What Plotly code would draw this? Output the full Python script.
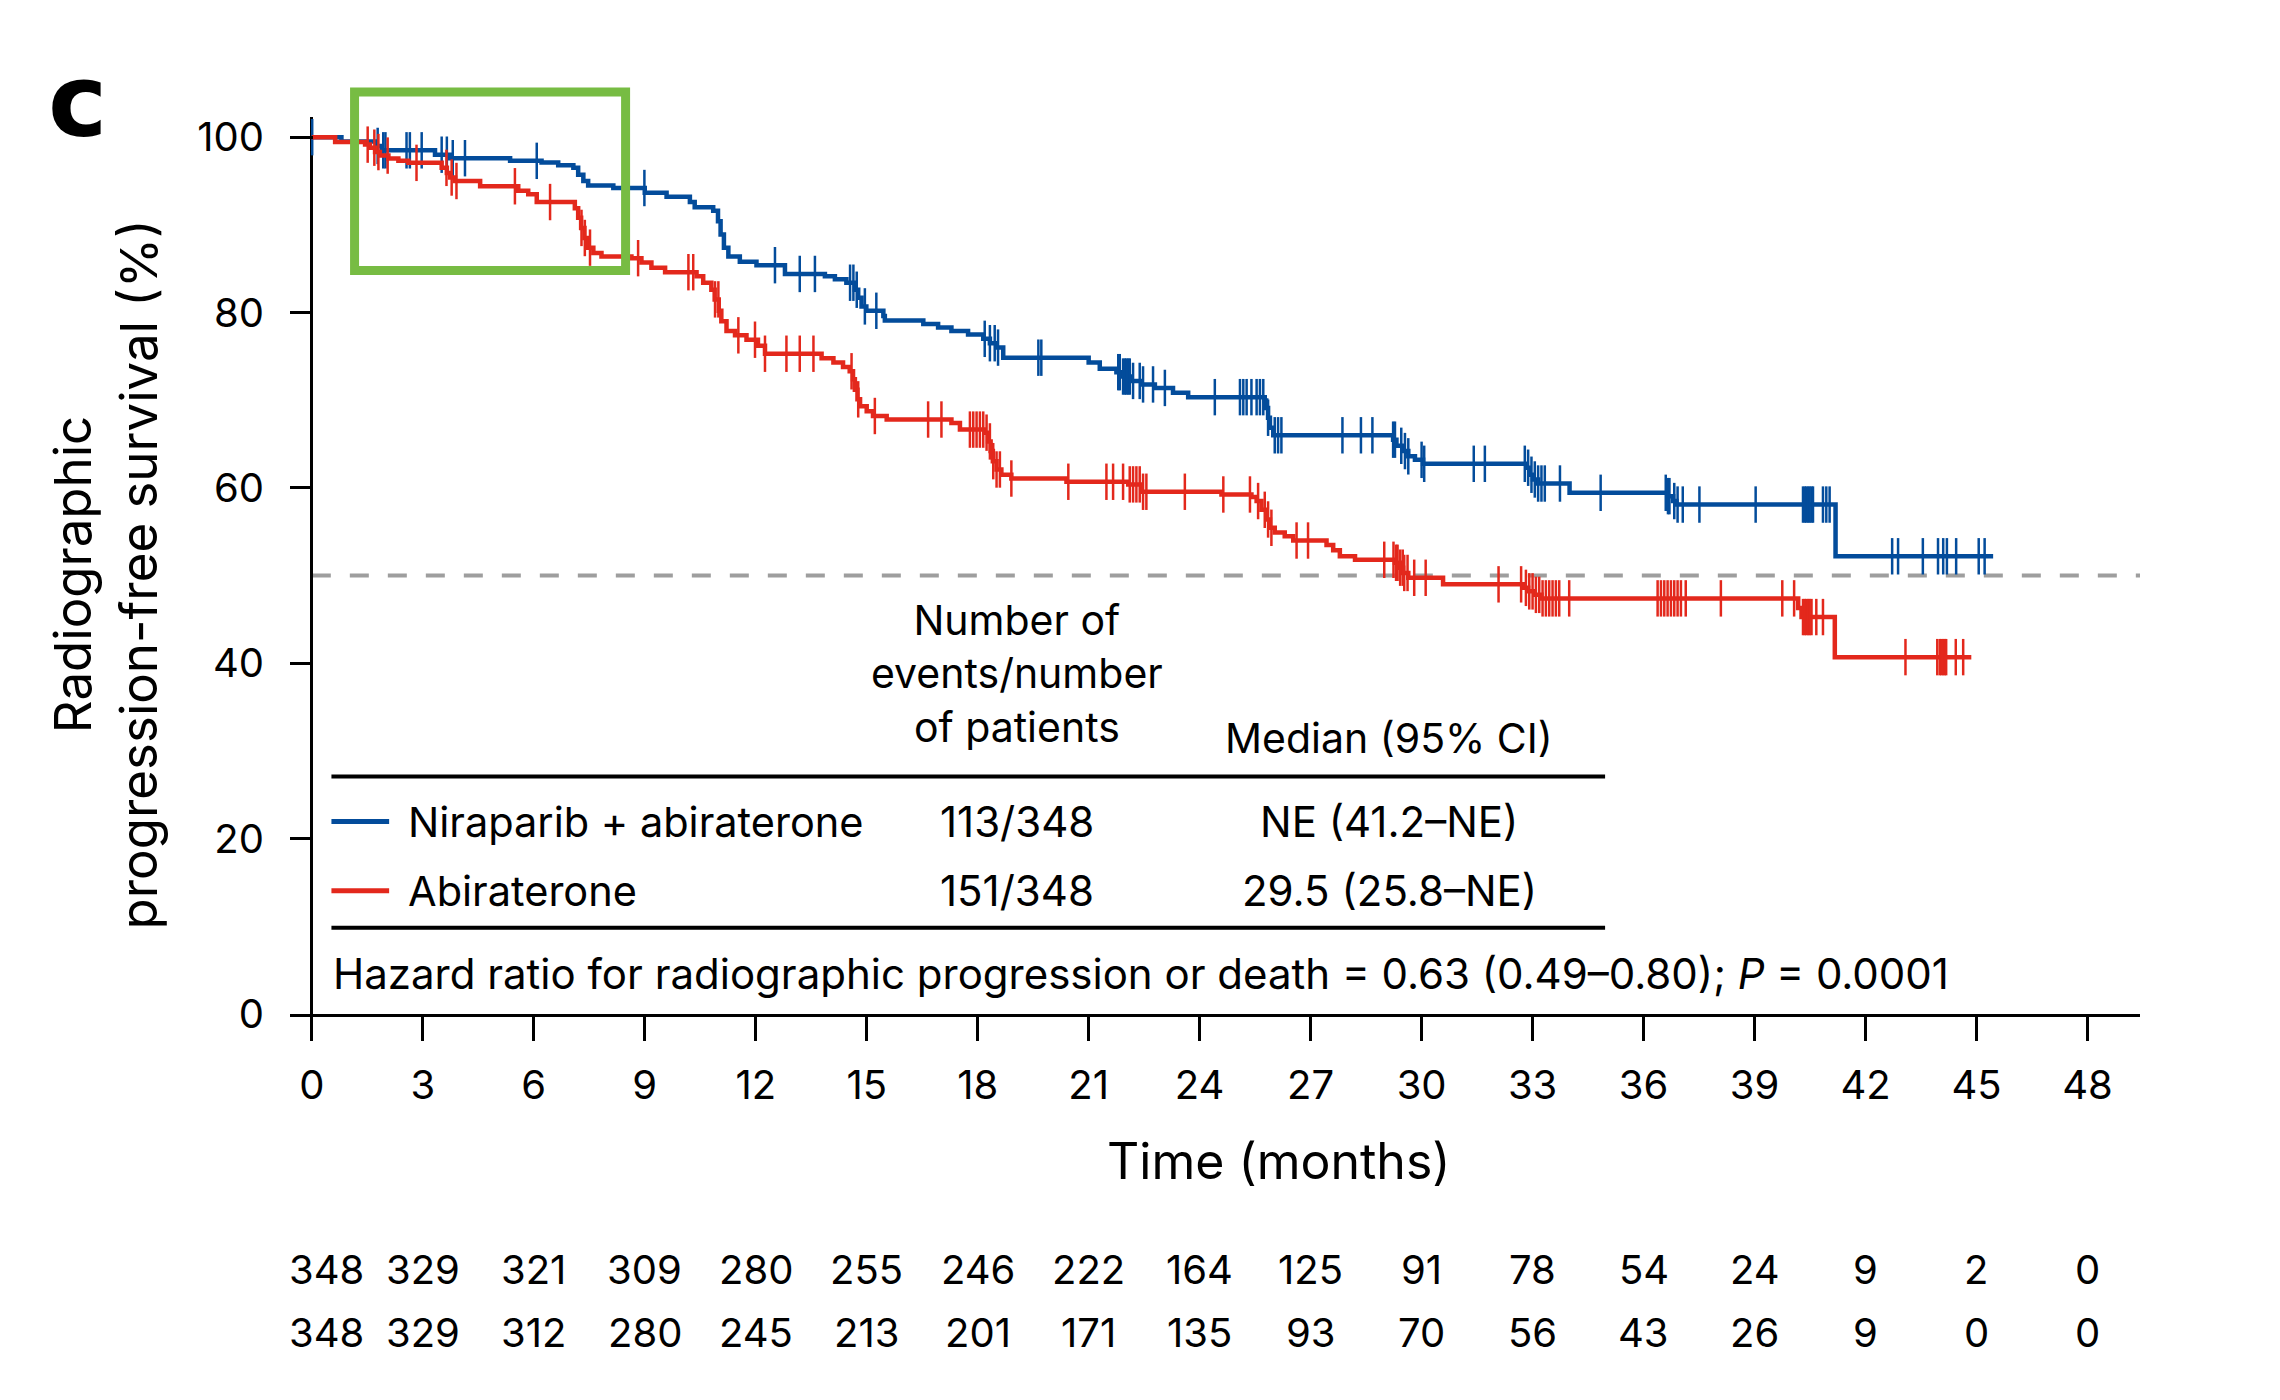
import bisect
import plotly.graph_objects as go

# Kaplan-Meier steps (time in months, survival in %)
nira_t = [0, 0.8, 1.75, 1.89, 3.33, 3.73, 5.36, 6.21, 6.66, 7.07, 7.2, 7.34, 7.47, 8.15, 9.0,
          9.59, 10.22, 10.35, 10.85, 10.98, 11.05, 11.14, 11.26, 11.57, 12.02, 12.79, 13.87,
          14.14, 14.45, 14.68, 14.77, 14.86, 14.99, 15.45, 15.49, 16.53, 16.93, 17.29, 17.74,
          18.15, 18.33, 18.51, 18.69, 21.0, 21.3, 21.75, 21.9, 22.15, 22.43, 22.79, 23.28,
          23.69, 25.76, 25.8, 25.85, 25.9, 25.99, 29.23, 29.32, 29.5, 29.64, 29.82, 30.04,
          32.83, 32.92, 33.01, 33.15, 34.0, 36.65, 36.8, 36.89, 41.19, 45.45]
nira_s = [100, 99.5, 99.0, 98.5, 98.0, 97.6, 97.3, 97.1, 96.8, 96.5, 95.7, 95.0, 94.5, 94.2,
          93.65, 93.2, 92.6, 92.0, 91.6, 90.4, 88.9, 87.4, 86.4, 85.8, 85.4, 84.4, 84.15, 83.8,
          83.4, 82.6, 81.7, 80.7, 80.2, 79.6, 79.1, 78.7, 78.3, 77.9, 77.5, 77.0, 76.5, 76.0,
          74.85, 74.3, 73.6, 73.2, 72.7, 72.2, 71.8, 71.4, 70.85, 70.35, 69.97, 69.1, 68.0,
          66.85, 66.0, 65.5, 64.8, 64.2, 63.6, 63.2, 62.75, 62.3, 61.5, 60.96, 60.5, 59.44,
          59.06, 58.5, 58.1, 52.2, 52.2]
nira_cens = [0.01, 1.78, 1.93, 1.99, 2.56, 2.65, 2.97, 3.51, 3.65, 3.81, 4.14, 6.08, 8.99,
             12.52, 13.19, 13.6, 14.55, 14.64, 14.73, 14.95, 15.26, 18.19, 18.33, 18.46, 18.55,
             19.64, 19.72, 21.8, 21.84, 21.93, 21.98, 22.02, 22.07, 22.11, 22.2, 22.38, 22.47,
             22.74, 23.06, 24.41, 25.09, 25.18, 25.27, 25.4, 25.54, 25.63, 25.72, 25.85, 26.03,
             26.12, 26.21, 27.86, 28.36, 28.67, 29.23, 29.28, 29.45, 29.55, 29.64, 30.0, 30.07,
             31.41, 31.71, 32.79, 32.88, 32.97, 33.06, 33.15, 33.24, 33.33, 33.74, 34.84, 36.6,
             36.66, 36.7, 36.83, 36.92, 37.06, 37.51, 39.03, 40.31, 40.36, 40.4, 40.45, 40.49,
             40.54, 40.58, 40.85, 40.94, 41.03, 42.72, 42.88, 43.55, 43.96, 44.1, 44.2, 44.45,
             45.06, 45.22]

abi_t = [0, 0.63, 1.44, 1.57, 1.71, 1.84, 2.07, 2.34, 2.61, 3.51, 3.65, 3.74, 3.87, 4.55, 5.58,
         5.85, 6.08, 7.11, 7.2, 7.28, 7.37, 7.47, 7.61, 7.83, 8.64, 8.91, 9.18, 9.55, 10.4,
         10.58, 10.8, 10.89, 11.0, 11.07, 11.21, 11.44, 11.75, 12.06, 12.25, 13.78, 14.1, 14.36,
         14.54, 14.63, 14.68, 14.75, 14.82, 15.0, 15.17, 15.54, 17.29, 17.52, 18.19, 18.28,
         18.35, 18.41, 18.51, 18.64, 18.91, 20.4, 22.07, 22.43, 24.59, 25.4, 25.54, 25.67,
         25.81, 25.9, 26.03, 26.3, 26.53, 27.43, 27.61, 27.79, 28.2, 29.28, 29.41, 29.5, 29.64,
         30.58, 32.74, 32.88, 33.06, 33.24, 40.18, 40.27, 41.17, 44.86]
abi_s = [100, 99.45, 99.15, 98.8, 98.3, 97.9, 97.56, 97.3, 97.07, 96.5, 95.9, 95.4, 95.0, 94.4,
         93.9, 93.5, 92.6, 91.9, 90.8, 89.65, 88.5, 87.4, 86.8, 86.4, 86.2, 85.7, 85.1, 84.6,
         84.15, 83.4, 82.6, 81.5, 80.2, 79.0, 77.9, 77.4, 76.9, 76.2, 75.3, 74.8, 74.3, 73.8,
         73.3, 72.4, 71.2, 70.1, 69.3, 68.75, 68.2, 67.8, 67.4, 66.65, 66.3, 65.3, 64.2, 63.05,
         62.1, 61.5, 61.07, 60.7, 60.4, 59.56, 59.25, 58.95, 58.5, 57.5, 56.4, 55.45, 54.9,
         54.5, 54.0, 53.5, 52.9, 52.2, 51.8, 51.46, 50.9, 50.3, 49.75, 49.0, 48.6, 48.2, 47.8,
         47.4, 46.3, 45.27, 40.7, 40.7]
abi_cens = [1.51, 1.69, 1.80, 2.05, 2.83, 3.64, 3.78, 3.91, 5.49, 6.44, 7.29, 7.38, 7.52, 8.82,
            10.18, 10.31, 10.9, 10.99, 11.53, 11.98, 12.25, 12.83, 13.19, 13.56, 14.59, 14.77,
            15.22, 16.66, 17.02, 17.79, 17.88, 17.97, 18.06, 18.15, 18.24, 18.33, 18.42, 18.51,
            18.6, 18.91, 20.45, 21.48, 21.66, 21.93, 22.11, 22.2, 22.29, 22.38, 22.47, 22.56,
            23.6, 24.64, 25.36, 25.58, 25.76, 25.85, 25.94, 26.62, 26.93, 28.99, 29.24, 29.31,
            29.35, 29.42, 29.49, 29.53, 29.62, 29.8, 30.11, 32.08, 32.69, 32.82, 32.91, 33.0,
            33.09, 33.18, 33.27, 33.36, 33.45, 33.54, 33.63, 33.72, 33.99, 36.38, 36.47, 36.56,
            36.65, 36.74, 36.83, 36.92, 37.01, 37.14, 38.09, 39.75, 40.07, 40.31, 40.36, 40.4,
            40.45, 40.49, 40.54, 40.67, 40.85, 43.08, 43.94, 44.01, 44.05, 44.1, 44.14, 44.18,
            44.44, 44.64]

risk_times = list(range(0, 49, 3))
nira_risk = [348, 329, 321, 309, 280, 255, 246, 222, 164, 125, 91, 78, 54, 24, 9, 2, 0]
abi_risk = [348, 329, 312, 280, 245, 213, 201, 171, 135, 93, 70, 56, 43, 26, 9, 0, 0]

BLUE = "#034C9B"
RED = "#E3281C"
FONT = "Inter"


def step_value(ts, ss, t):
    i = bisect.bisect_right(ts, t) - 1
    return ss[max(i, 0)]


fig = go.Figure()
for ts, ss, cens, col in [(nira_t, nira_s, nira_cens, BLUE), (abi_t, abi_s, abi_cens, RED)]:
    fig.add_trace(go.Scatter(x=ts, y=ss, mode="lines", line=dict(color=col, width=4.5, shape="hv"),
                             hoverinfo="skip"))
    fig.add_trace(go.Scatter(x=cens, y=[step_value(ts, ss, c) for c in cens], mode="markers",
                             marker=dict(symbol="line-ns", size=26, line=dict(color=col, width=2.5)),
                             hoverinfo="skip"))

# median reference line
fig.add_shape(type="line", x0=0, x1=49.42, y0=50, y1=50, xref="x", yref="y",
              line=dict(color="#9E9E9E", width=4, dash="19px,19px"), layer="below")

# highlight box
fig.add_shape(type="rect", xref="paper", yref="paper", x0=0.0349, x1=0.1814, y0=0.829, y1=1.028,
              line=dict(color="#77BC43", width=9))

# table rules and legend keys
for yv in [27.08, 9.85]:
    fig.add_shape(type="line", x0=0.53, x1=34.96, y0=yv, y1=yv, line=dict(color="black", width=4))
fig.add_shape(type="line", x0=0.53, x1=2.09, y0=21.95, y1=21.95, line=dict(color=BLUE, width=5))
fig.add_shape(type="line", x0=0.53, x1=2.09, y0=14.07, y1=14.07, line=dict(color=RED, width=5))

ann = []


def txt(x, y, s, size=42, xa="center", ya="middle", xref="x", yref="y", **kw):
    ann.append(dict(x=x, y=y, text=s, xref=xref, yref=yref, xanchor=xa, yanchor=ya,
                    showarrow=False, font=dict(family=FONT, size=size, color="black"), **kw))


txt(19.07, 38.8, "Number of<br>events/number<br>of patients", size=41)
txt(29.12, 31.5, "Median (95% CI)", size=41)
txt(2.55, 21.95, "Niraparib + abiraterone", xa="left", size=41.5)
txt(19.07, 21.95, "113/348")
txt(29.12, 21.95, "NE (41.2–NE)")
txt(2.55, 14.07, "Abiraterone", xa="left", size=41.5)
txt(19.07, 14.07, "151/348")
txt(29.12, 14.07, "29.5 (25.8–NE)")
txt(0.53, 4.6, "Hazard ratio for radiographic progression or death = 0.63 (0.49–0.80); <i>P</i> = 0.0001",
    xa="left")

for i, t in enumerate(risk_times):
    shift = 15 if t == 0 else 0
    txt(t, -0.285, str(nira_risk[i]), size=40, yref="paper", xshift=shift)
    txt(t, -0.355, str(abi_risk[i]), size=40, yref="paper", xshift=shift)

txt(0.5346, -0.164, "Time (months)", size=50, xref="paper", yref="paper")
txt(-0.1, 0.49, "Radiographic<br>progression-free survival (%)", size=51, xref="paper",
    yref="paper", textangle=-90)
ann.append(dict(x=-0.115, y=1.017, xref="paper", yref="paper", text="<b>c</b>", showarrow=False,
                xanchor="center", yanchor="middle",
                font=dict(family="DejaVu Sans", size=100, color="black", weight=900)))

fig.update_layout(
    width=2280, height=1400,
    margin=dict(l=282, r=148, t=109, b=394),
    paper_bgcolor="white", plot_bgcolor="white",
    showlegend=False, annotations=ann,
    font=dict(family=FONT, size=40, color="black"),
)
fig.update_xaxes(range=[-0.59, 49.42], tickvals=risk_times, ticks="outside", ticklen=24,
                 tickwidth=2.5, tickcolor="black", showline=True, linecolor="black", linewidth=2.7,
                 showgrid=False, zeroline=True, zerolinecolor="black", zerolinewidth=2.7,
                 tickfont=dict(family=FONT, size=40), ticklabelstandoff=10)
fig.update_yaxes(range=[0, 102.3], tickvals=[0, 20, 40, 60, 80, 100], ticks="inside", ticklen=23,
                 tickwidth=2.5, tickcolor="black", showline=False, showgrid=False, zeroline=False,
                 tickfont=dict(family=FONT, size=40), ticklabelstandoff=25)

fig.write_html("out.html")
